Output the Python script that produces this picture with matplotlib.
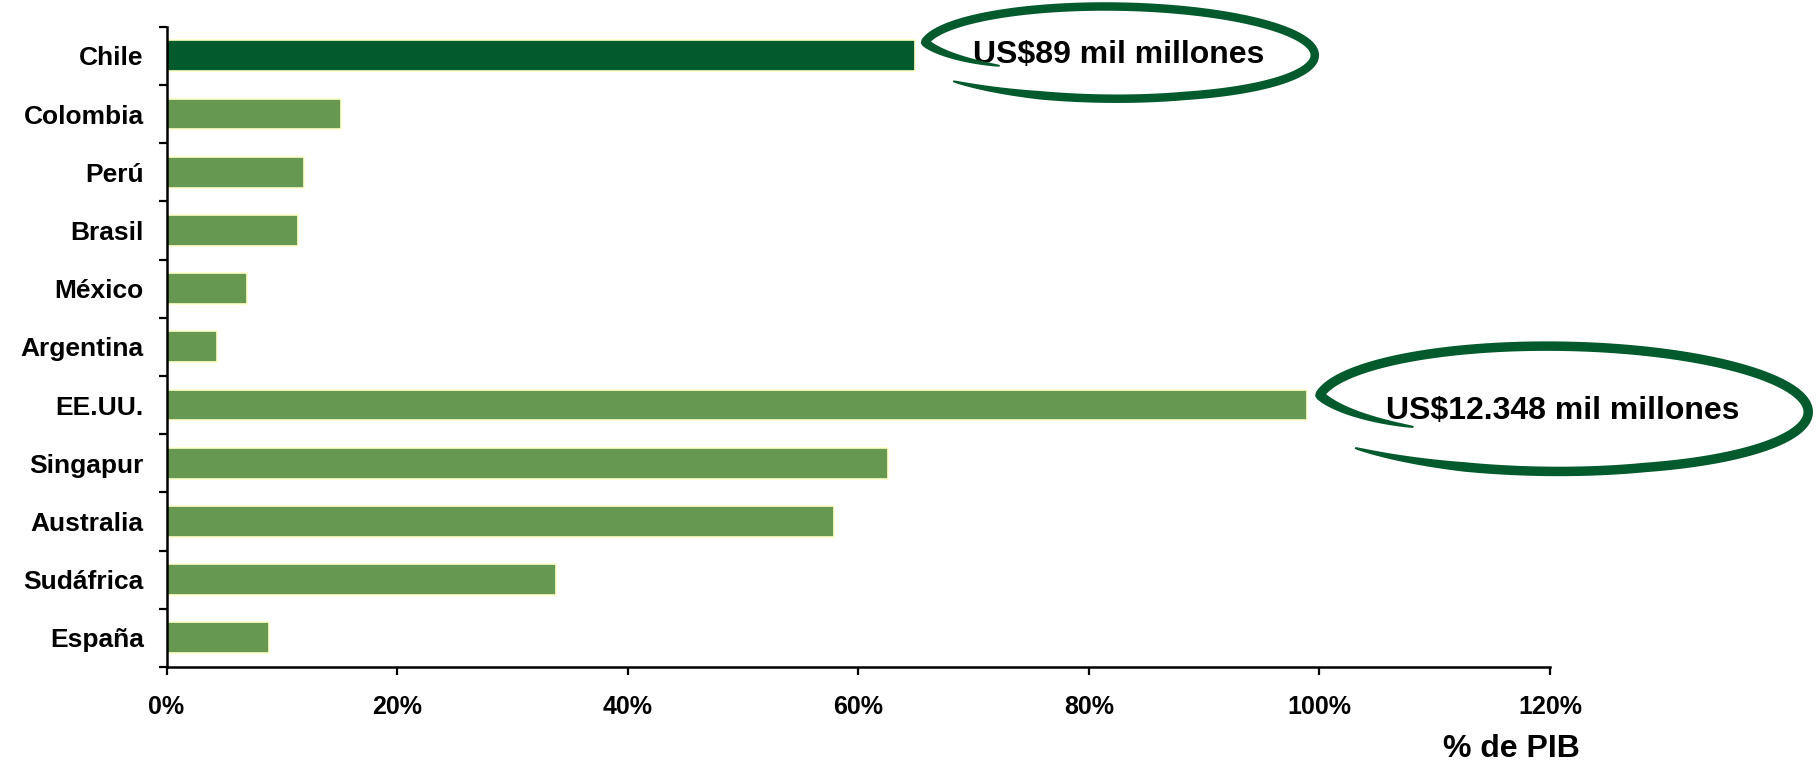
import numpy as np
import matplotlib
matplotlib.use("Agg")
import matplotlib.pyplot as plt
from matplotlib.patches import Polygon
from matplotlib.ticker import FixedLocator, FuncFormatter

# Datos: capitalización bursátil como % del PIB
paises = ["Chile", "Colombia", "Perú", "Brasil", "México", "Argentina",
          "EE.UU.", "Singapur", "Australia", "Sudáfrica", "España"]
pct_pib = [64.9, 15.1, 11.9, 11.4, 7.0, 4.4, 98.9, 62.6, 57.9, 33.8, 8.9]
ticks_x = [0, 20, 40, 60, 80, 100, 120]
destacado = "Chile"
notas = {"Chile": "US$89 mil millones", "EE.UU.": "US$12.348 mil millones"}

VERDE_OSCURO = "#035A2D"
VERDE_CLARO = "#669852"
BORDE_BARRA = "#FFFFC8"
FUENTE = "Liberation Sans"

W, H = 1817, 769
fig = plt.figure(figsize=(W / 100, H / 100), dpi=100)
ax = fig.add_axes([166.5 / W, 102 / H, (1550 - 166.5) / W, (742.3 - 102) / H])

y = np.arange(len(paises))
colores = [VERDE_OSCURO if p == destacado else VERDE_CLARO for p in paises]
ax.barh(y, pct_pib, height=0.53, color=colores, edgecolor=BORDE_BARRA,
        linewidth=1.2, zorder=2)

ax.set_xlim(ticks_x[0], ticks_x[-1])
ax.set_ylim(len(paises) - 0.5, -0.5)

for s in ("top", "right"):
    ax.spines[s].set_visible(False)
for s in ("left", "bottom"):
    ax.spines[s].set_linewidth(1.8)
    ax.spines[s].set_color("black")

# Eje Y: etiquetas centradas en cada categoría, marcas en los límites
ax.set_yticks(y)
ax.set_yticklabels(paises, fontsize=19, fontweight="bold", family=FUENTE)
ax.yaxis.set_minor_locator(FixedLocator(np.arange(-0.5, len(paises), 1.0)))
ax.tick_params(axis="y", which="major", length=0, pad=16.4)
ax.tick_params(axis="y", which="minor", length=5.8, width=1.6, direction="out")

# Eje X en porcentaje
ax.set_xticks(ticks_x)
ax.xaxis.set_major_formatter(FuncFormatter(lambda v, _: f"{v:.0f}%"))
ax.tick_params(axis="x", which="major", length=5.8, width=1.6,
               direction="out", pad=14)
for lab in ax.get_xticklabels():
    lab.set_fontsize(18)
    lab.set_fontweight("bold")
    lab.set_family(FUENTE)

fig.text(1580 / W, (H - 757) / H, "% de PIB", ha="right", va="baseline",
         fontsize=23, fontweight="bold", family=FUENTE)


def ovalo_a_mano(ax, cx, cy, a, b, grosor_px, giro_deg=-1.0):
    """Trazo ovalado tipo rotulador alrededor de (cx, cy) en datos."""
    c = ax.transData.transform((cx, cy))
    a_px = ax.transData.transform((cx + a, cy))[0] - c[0]
    b_px = abs(ax.transData.transform((cx, cy + b))[1] - c[1])
    ang = np.linspace(150, 500, 700)
    r = np.interp(ang, [150, 188, 430, 500], [0.70, 1.0, 1.0, 1.10])
    t = np.radians(ang)
    px = a_px * r * np.cos(t)
    py = -b_px * r * np.sin(t)
    g = np.radians(giro_deg)
    xr = c[0] + px * np.cos(g) - py * np.sin(g)
    yr = c[1] + px * np.sin(g) + py * np.cos(g)
    dx, dy = np.gradient(xr), np.gradient(yr)
    n = np.hypot(dx, dy)
    nx, ny = -dy / n, dx / n
    s = np.linspace(0, 1, len(ang))
    perfil = np.clip(np.minimum(s / 0.10, (1 - s) / 0.08), 0, 1) ** 0.7
    w = grosor_px * (0.2 + 0.8 * perfil) / 2
    borde = np.vstack([np.column_stack([xr + nx * w, yr + ny * w]),
                       np.column_stack([xr - nx * w, yr - ny * w])[::-1]])
    borde = ax.figure.transFigure.inverted().transform(borde)
    ax.figure.add_artist(Polygon(borde, closed=True, facecolor=VERDE_OSCURO,
                                 edgecolor="none",
                                 transform=ax.figure.transFigure, zorder=5))


# Anotaciones: (desplazamiento x, desplazamiento y, semieje a, semieje b, grosor)
geometria = {"Chile": (17.7, -0.065, 17.0, 0.78, 8.5),
             "EE.UU.": (22.2, 0.05, 21.3, 1.06, 9.5)}
for pais, texto in notas.items():
    i = paises.index(pais)
    dxo, dyo, a, b, gros = geometria[pais]
    cx, cy = pct_pib[i] + dxo, i + dyo
    ovalo_a_mano(ax, cx, cy, a, b, gros)
    ax.annotate(texto, (cx, cy), xytext=(0, -8.2), textcoords="offset points",
                ha="center", va="baseline", fontsize=23, fontweight="bold",
                family=FUENTE, annotation_clip=False, zorder=6)

fig.savefig("out.png", dpi=100)
